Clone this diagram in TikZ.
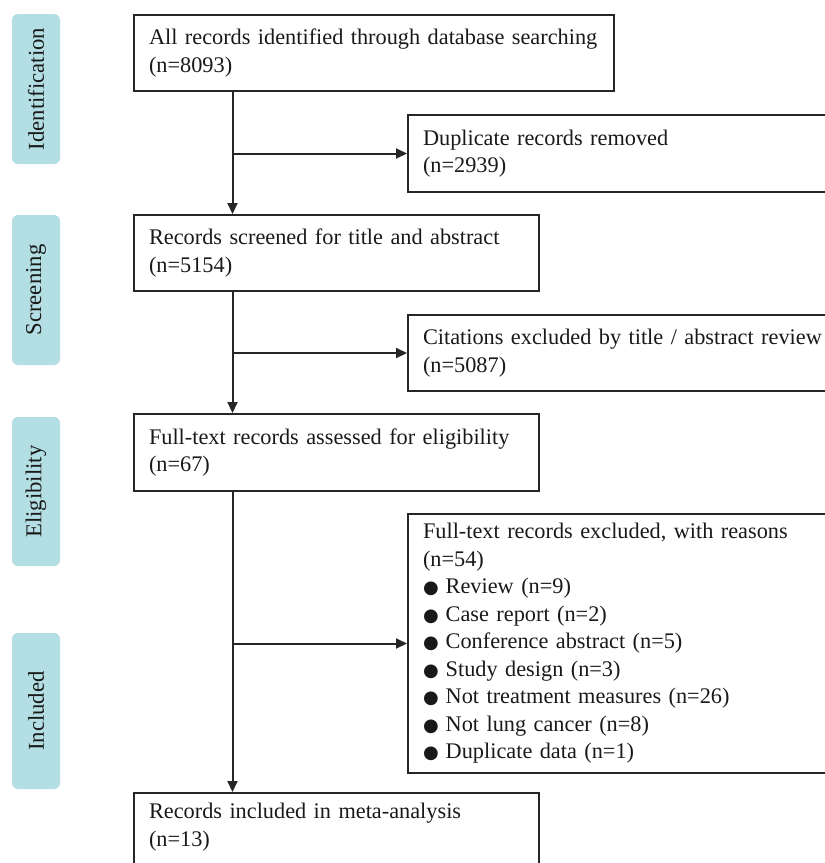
\documentclass[tikz,border=0pt]{standalone}
\usepackage{fontspec}
\setmainfont{Liberation Serif}
\newfontfamily\bulletfont{DejaVu Sans}
\usetikzlibrary{arrows.meta}
\definecolor{stagefill}{HTML}{B3DFE4}
\definecolor{linecol}{HTML}{262626}
\newcommand{\bul}{{\bulletfont\fontsize{18}{18}\selectfont ●}\hspace{7pt}}
\begin{document}
\begin{tikzpicture}[x=1pt,y=-1pt,
 box/.style={draw=linecol, line width=2pt, anchor=north west, align=left, inner xsep=15pt, inner ysep=0pt, font=\fontsize{22.3}{27.5}\selectfont, text=black!90},
 stage/.style={fill=stagefill, rounded corners=6pt, rotate=90, inner sep=0pt, minimum height=48pt, font=\fontsize{22.7}{27.5}\selectfont, text=black!90},
 flow/.style={draw=linecol, line width=2pt, -{Triangle[length=11pt,width=10pt]}}]
\useasboundingbox (0,0) rectangle (825,863);
% stage labels
\node[stage, minimum width=150pt] (s1) at (36,89) {Identification};
\node[stage, minimum width=150pt] (s2) at (36,290) {Screening};
\node[stage, minimum width=149pt] (s3) at (36,491.5) {Eligibility};
\node[stage, minimum width=156pt] (s4) at (36,711) {Included};
% main boxes
\node[box, text width=450pt, minimum height=76pt] (b1) at (133,14) {\mbox{All records identified through database searching}\\(n=8093)};
\node[box, text width=398pt, minimum height=77pt] (b2) at (407,114) {Duplicate records removed\\(n=2939)};
\node[box, text width=375pt, minimum height=76pt] (b3) at (133,214) {Records screened for title and abstract\\(n=5154)};
\node[box, text width=398pt, minimum height=76pt] (b4) at (407,314) {\mbox{Citations excluded by title / abstract review}\\(n=5087)};
\node[box, text width=375pt, minimum height=77pt] (b5) at (133,413) {Full-text records assessed for eligibility\\(n=67)};
\node[box, text width=398pt, minimum height=259pt] (b6) at (407,513) {Full-text records excluded, with reasons\\(n=54)\\
\bul Review (n=9)\\
\bul Case report (n=2)\\
\bul Conference abstract (n=5)\\
\bul Study design (n=3)\\
\bul Not treatment measures (n=26)\\
\bul Not lung cancer (n=8)\\
\bul Duplicate data (n=1)};
\node[box, text width=375pt, minimum height=99pt] (b7) at (133,792) {Records included in meta-analysis\\(n=13)\\\strut};
% connectors
\coordinate (vx) at (232.5,0);
\draw[flow] (b1.south -| vx) -- (b3.north -| vx);
\draw[flow] (b2.west -| vx) -- (b2.west);
\draw[flow] (b3.south -| vx) -- (b5.north -| vx);
\draw[flow] (b4.west -| vx) -- (b4.west);
\draw[flow] (b5.south -| vx) -- (b7.north -| vx);
\draw[flow] (b6.west -| vx) -- (b6.west);
\end{tikzpicture}
\end{document}
